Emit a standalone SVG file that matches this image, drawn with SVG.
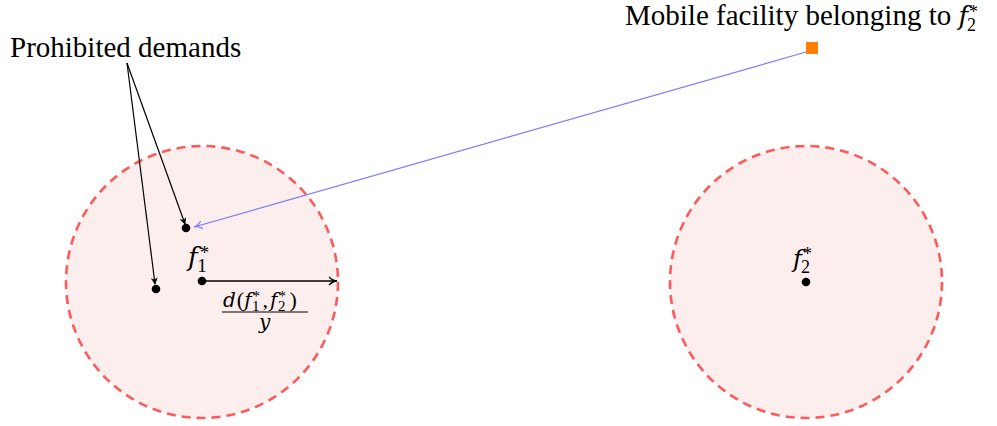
<svg xmlns="http://www.w3.org/2000/svg" width="997" height="426" viewBox="0 0 997 426">
<defs>
<style>
.zone{fill:#fdeeee;stroke:#ff5a5a;stroke-width:2.6;stroke-dasharray:9,6}
.lbl{font-family:"Liberation Serif","Times New Roman",serif;font-size:29px;fill:#000}
.math{font-family:"DejaVu Serif","Liberation Serif",serif;font-style:italic;fill:#000}
.n{font-family:"Liberation Serif","Times New Roman",serif;font-style:normal}
</style>
<marker id="ah" viewBox="0 0 10 10" refX="9" refY="5" markerWidth="7" markerHeight="7" orient="auto" markerUnits="userSpaceOnUse">
<path d="M0,0 L10,5 L0,10 L3,5 Z" fill="#000"/>
</marker>
<marker id="ahb" viewBox="0 0 10 10" refX="9" refY="5" markerWidth="10" markerHeight="10" orient="auto" markerUnits="userSpaceOnUse">
<path d="M1,1 Q5,5 9,5 Q5,5 1,9" fill="none" stroke="#7b7bff" stroke-width="1.2"/>
</marker>
<marker id="ahk" viewBox="0 0 10 10" refX="9" refY="5" markerWidth="10" markerHeight="10" orient="auto" markerUnits="userSpaceOnUse">
<path d="M1,1 Q5,5 9,5 Q5,5 1,9" fill="none" stroke="#000" stroke-width="1.3"/>
</marker>
</defs>
<rect width="997" height="426" fill="#fff"/>
<g id="zone1"><circle class="zone" cx="202" cy="282" r="136"/></g>
<g id="zone2"><circle class="zone" cx="806" cy="282" r="136"/></g>
<g id="connectors">
<line x1="127" y1="63" x2="185" y2="224" stroke="#000" stroke-width="1.2" marker-end="url(#ah)"/>
<line x1="127" y1="63" x2="155" y2="284" stroke="#000" stroke-width="1.2" marker-end="url(#ah)"/>
<line x1="806" y1="52" x2="194" y2="227" stroke="#7b7bff" stroke-width="1.2" marker-end="url(#ahb)"/>
<line x1="202" y1="281" x2="337" y2="281" stroke="#000" stroke-width="1.5" marker-end="url(#ahk)"/>
</g>
<g id="f1">
<circle cx="202" cy="281" r="4.3" fill="#000"/>
<text class="math" x="188" y="266" font-size="26">f<tspan class="n" font-size="19" dx="2" dy="-7">*</tspan><tspan class="n" font-size="19" dx="-12" dy="13">1</tspan></text>
</g>
<g id="d1"><circle cx="186" cy="228" r="4.3" fill="#000"/></g>
<g id="d2"><circle cx="156" cy="289" r="4.3" fill="#000"/></g>
<g id="f2">
<circle cx="806" cy="282" r="4.3" fill="#000"/>
<text class="math" x="793" y="267" font-size="24">f<tspan class="n" font-size="18" dx="1" dy="-7">*</tspan><tspan class="n" font-size="18" dx="-11" dy="13">2</tspan></text>
</g>
<g id="dist">
<text class="math" x="223" y="307" font-size="20">d<tspan class="n" font-size="22" dx="1">(</tspan>f<tspan class="n" font-size="15" dx="1" dy="-6">*</tspan><tspan class="n" font-size="15" dx="-8" dy="10">1</tspan><tspan class="n" font-size="22" dx="3" dy="-4">,</tspan><tspan dx="2">f</tspan><tspan class="n" font-size="15" dx="1" dy="-6">*</tspan><tspan class="n" font-size="15" dx="-8" dy="10">2</tspan><tspan class="n" font-size="22" dx="4" dy="-4">)</tspan></text>
<line x1="222" y1="312" x2="308" y2="312" stroke="#000" stroke-width="1"/>
<text class="math" x="259" y="329" font-size="20">y</text>
</g>
<g id="prohibited"><text class="lbl" x="10" y="57">Prohibited demands</text></g>
<g id="mobile">
<rect x="806" y="42" width="12" height="12" fill="#ff8000"/>
<text class="lbl" x="625" y="25">Mobile facility belonging to <tspan class="math" font-size="26">f</tspan><tspan class="n" font-size="18" dx="1" dy="-7">*</tspan><tspan class="n" font-size="18" dx="-11" dy="13">2</tspan></text>
</g>
</svg>
